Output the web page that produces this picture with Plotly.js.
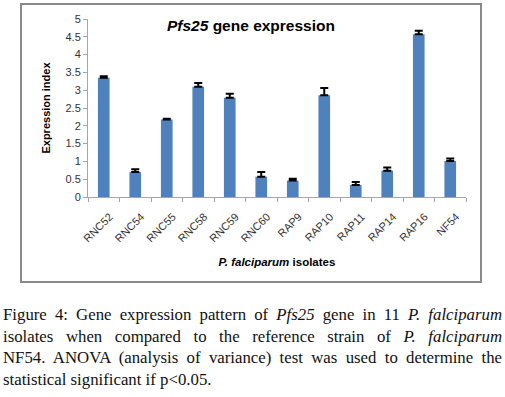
<!DOCTYPE html>
<html>
<head>
<meta charset="utf-8">
<script src="https://cdn.plot.ly/plotly-3.0.1.min.js"></script>
<style>
  html, body { margin:0; padding:0; background:#fff; width:505px; height:397px; overflow:hidden; }
  #chart { position:absolute; left:0; top:0; width:505px; height:285px; }
  #frame { position:absolute; left:20px; top:3px; width:458px; height:276px; border:2px solid #8a8a8a; pointer-events:none; }
  #caption { position:absolute; left:3px; top:304px; width:499px; font-family:"Liberation Serif","DejaVu Serif",serif; font-size:16.8px; line-height:21.5px; color:#111; }
  #caption .ln { display:block; text-align:justify; text-align-last:justify; white-space:nowrap; }
  #caption .ln.last { text-align-last:left; }
</style>
</head>
<body>
<div id="chart"></div>
<div id="frame"></div>
<div id="caption">
  <span class="ln">Figure 4: Gene expression pattern of <i>Pfs25</i> gene in 11 <i>P. falciparum</i></span>
  <span class="ln">isolates when compared to the reference strain of <i>P. falciparum</i></span>
  <span class="ln">NF54. ANOVA (analysis of variance) test was used to determine the</span>
  <span class="ln last">statistical significant if p&lt;0.05.</span>
</div>
<script>
const isolates = ["RNC52","RNC54","RNC55","RNC58","RNC59","RNC60","RAP9","RAP10","RAP11","RAP14","RAP16","NF54"];
const expressionIndex = [3.35, 0.70, 2.18, 3.10, 2.79, 0.57, 0.46, 2.86, 0.34, 0.74, 4.57, 1.01];
const errorUp = [0.04, 0.08, 0.02, 0.10, 0.11, 0.13, 0.05, 0.20, 0.08, 0.09, 0.10, 0.07];
const errorDown = isolates.map(() => 0);
const yTicks = [0, 0.5, 1, 1.5, 2, 2.5, 3, 3.5, 4, 4.5, 5];

const trace = {
  type: "bar",
  x: isolates,
  y: expressionIndex,
  marker: { color: "#4F81BD" },
  error_y: { type: "data", symmetric: false, array: errorUp, arrayminus: errorDown, color: "#000", thickness: 2, width: 4, visible: true },
  hoverinfo: "x+y"
};

const layout = {
  width: 505, height: 285,
  margin: { l: 88, r: 39, t: 19, b: 87.5 },
  paper_bgcolor: "#fff", plot_bgcolor: "#fff",
  font: { family: "Liberation Sans, Arial, sans-serif", color: "#333" },
  bargap: 0.63,
  showlegend: false,
  title: { text: "<b><i>Pfs25</i> gene expression</b>", x: 0.497, xanchor: "center", y: 0.91, yanchor: "middle", font: { size: 15.5, color: "#000" } },
  xaxis: {
    type: "category",
    tickangle: -45,
    tickfont: { size: 11, color: "#333" },
    ticklabelstandoff: 8,
    ticklabelshift: 6,
    showline: true, linecolor: "#a6a6a6", linewidth: 1,
    ticks: "outside", tickson: "boundaries", ticklen: 4, tickcolor: "#a6a6a6",
    showgrid: false, zeroline: false,
    title: { text: "<b><i>P. falciparum</i> isolates</b>", font: { size: 11.5, color: "#000" }, standoff: 14 }
  },
  yaxis: {
    range: [0, 5],
    tickvals: yTicks,
    ticktext: yTicks.map(String),
    tickfont: { size: 11, color: "#333" },
    showline: true, linecolor: "#a6a6a6", linewidth: 1,
    ticks: "outside", ticklen: 4, tickcolor: "#a6a6a6",
    showgrid: false, zeroline: false,
    title: { text: "<b>Expression index</b>", font: { size: 11, color: "#000" }, standoff: 12 }
  }
};

Plotly.newPlot("chart", [trace], layout, { displayModeBar: false, staticPlot: true });
</script>
</body>
</html>
